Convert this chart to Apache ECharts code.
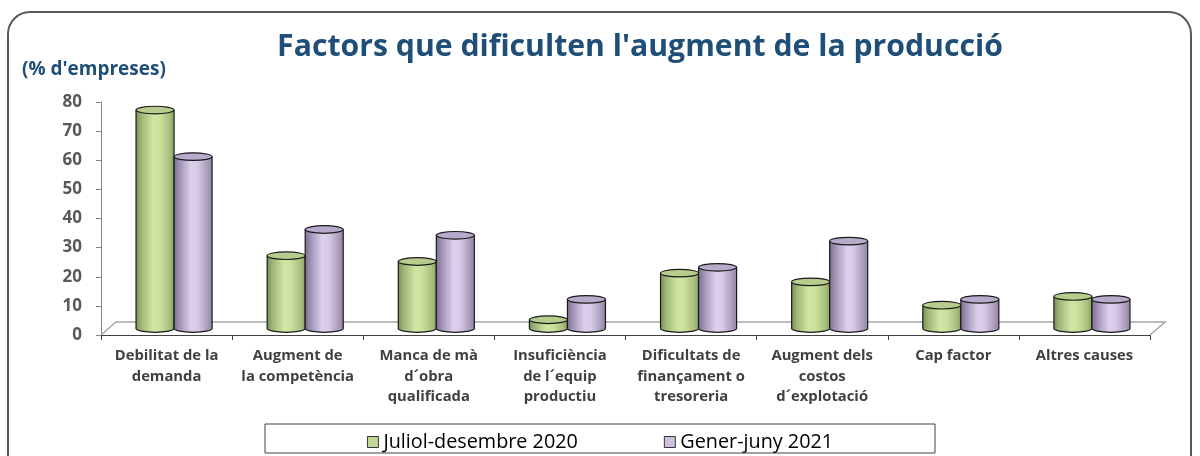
<!DOCTYPE html>
<html><head><meta charset="utf-8">
<script src="https://cdn.jsdelivr.net/npm/echarts@6/dist/echarts.min.js"></script>
<style>html,body{margin:0;padding:0;background:#fff}#c{width:1200px;height:456px}</style>
</head><body><div id="c"></div>
<script>
const categories = ['Debilitat de la\ndemanda', 'Augment de\nla competència', 'Manca de mà\nd´obra\nqualificada', 'Insuficiència\nde l´equip\nproductiu', 'Dificultats de\nfinançament o\ntresoreria', 'Augment dels\ncostos\nd´explotació', 'Cap factor', 'Altres causes'];
const seriesNames = ['Juliol-desembre 2020', 'Gener-juny 2021'];
const valuesJulDec2020 = [75, 25, 23, 3, 19, 16, 8, 11];
const valuesJanJun2021 = [59, 34, 32, 10, 21, 30, 10, 10];
const yMin = 0, yMax = 80, yInterval = 10;
const titleText = "Factors que dificulten l'augment de la producció";
const unitText = "(% d'empreses)";

const FONT = '"Open Sans", Lato, sans-serif';
const palettes = [
  {stops: ['#7a9155', '#9fb877', '#d2e4a4', '#cde09e', '#a9bf80', '#8aa163'], cap: '#b8cc8e', legend: '#c4d79b'},
  {stops: ['#7c7091', '#a193b6', '#dcd0ec', '#d6caE6', '#a99dbb', '#8f84a2'], cap: '#b7aacb', legend: '#ccc0da'}
];

function cylinder(idx) {
  const p = palettes[idx];
  return function (params, api) {
    const cat = api.value(0), v = api.value(1);
    const top = api.coord([cat, v]);
    const base = api.coord([cat, 0]);
    const band = api.size([1, 0])[0];
    const w = band * 0.29;
    const x = top[0] + (idx === 0 ? -w : 0);
    const cx = x + w / 2, rx = w / 2, ry = 3.8;
    const grad = () => new echarts.graphic.LinearGradient(0, 0, 1, 0, [
      {offset: 0, color: p.stops[0]}, {offset: 0.15, color: p.stops[1]},
      {offset: 0.45, color: p.stops[2]}, {offset: 0.62, color: p.stops[3]},
      {offset: 0.88, color: p.stops[4]}, {offset: 1, color: p.stops[5]}]);
    const ln = '#1a1a1a';
    return {type: 'group', children: [
      {type: 'ellipse', shape: {cx: cx, cy: base[1], rx: rx, ry: ry}, style: {fill: grad(), stroke: ln, lineWidth: 1.2}},
      {type: 'rect', shape: {x: x, y: top[1], width: w, height: base[1] - top[1]}, style: {fill: grad()}},
      {type: 'line', shape: {x1: x, y1: top[1], x2: x, y2: base[1]}, style: {stroke: ln, lineWidth: 1.2}},
      {type: 'line', shape: {x1: x + w, y1: top[1], x2: x + w, y2: base[1]}, style: {stroke: ln, lineWidth: 1.2}},
      {type: 'ellipse', shape: {cx: cx, cy: top[1], rx: rx, ry: ry}, style: {fill: p.cap, stroke: ln, lineWidth: 1.2}}
    ]};
  };
}

function floorRender(params, api) {
  const cs = params.coordSys;
  const x0 = cs.x, y0 = cs.y + cs.height, x1 = cs.x + cs.width;
  const dx = 15, dy = 13;
  return {type: 'polyline', shape: {points: [[x0, y0], [x0 + dx, y0 - dy], [x1 + dx, y0 - dy], [x1, y0]]},
    style: {stroke: '#a6a6a6', lineWidth: 1.5, fill: null}, z2: 0};
}

const chart = echarts.init(document.getElementById('c'), null, {renderer: 'canvas'});
chart.setOption({
  backgroundColor: '#fff',
  animation: false,
  textStyle: {fontFamily: FONT},
  grid: [
    {left: 101, right: 50, top: 102, bottom: 121},
    {left: 108.5, right: 42.5, top: 95.5, bottom: 127.5}
  ],
  xAxis: [
    {type: 'category', gridIndex: 0, data: categories, boundaryGap: true,
      axisLine: {lineStyle: {color: '#404040', width: 1}},
      axisTick: {show: true, length: 5, interval: 0, lineStyle: {color: '#404040'}},
      axisLabel: {interval: 0, margin: 11, fontSize: 14.8, fontWeight: 'bold', color: '#404040', lineHeight: 20.5, fontFamily: FONT}},
    {type: 'category', gridIndex: 1, data: categories, show: false}
  ],
  yAxis: [
    {type: 'value', gridIndex: 0, min: yMin, max: yMax, interval: yInterval,
      axisLine: {show: true, lineStyle: {color: '#868686'}},
      axisTick: {show: true, length: 5, lineStyle: {color: '#868686'}},
      splitLine: {show: false},
      axisLabel: {margin: 19, fontSize: 17, fontWeight: 'bold', color: '#595959', fontFamily: FONT}},
    {type: 'value', gridIndex: 1, min: yMin, max: yMax, interval: yInterval, show: false, splitLine: {show: false}}
  ],
  legend: {
    left: 'center', top: 427, itemGap: 86, itemWidth: 11, itemHeight: 11, itemTextGap: 3,
    textStyle: {fontSize: 19.8, color: '#000', fontFamily: FONT},
    data: seriesNames.map((n, i) => ({name: n, icon: 'rect', itemStyle: {color: palettes[i].legend, borderColor: '#333', borderWidth: 1}}))
  },
  graphic: [
    {type: 'rect', shape: {x: 8, y: 12, width: 1183, height: 480, r: 22}, style: {fill: null, stroke: '#595959', lineWidth: 2}, silent: true},
    {type: 'text', x: 640, y: 47, style: {text: titleText, textAlign: 'center', textVerticalAlign: 'middle', fontSize: 30.2, fontWeight: 'bold', fill: '#1f4e79', fontFamily: FONT}},
    {type: 'text', x: 22, y: 70, style: {text: unitText, textAlign: 'left', textVerticalAlign: 'middle', fontSize: 19, fontWeight: 'bold', fill: '#1f4e79', fontFamily: FONT}},
    {type: 'rect', shape: {x: 265, y: 424, width: 670, height: 29}, style: {fill: null, stroke: '#404040', lineWidth: 1}, silent: true}
  ],
  series: [
    {type: 'custom', name: 'floor', xAxisIndex: 0, yAxisIndex: 0, data: [[0, 0]], renderItem: floorRender, z: 1, silent: true},
    {type: 'custom', name: seriesNames[0], xAxisIndex: 1, yAxisIndex: 1, z: 3,
      itemStyle: {color: palettes[0].legend},
      encode: {x: 0, y: 1}, data: valuesJulDec2020.map((v, i) => [i, v]), renderItem: cylinder(0)},
    {type: 'custom', name: seriesNames[1], xAxisIndex: 1, yAxisIndex: 1, z: 3,
      itemStyle: {color: palettes[1].legend},
      encode: {x: 0, y: 1}, data: valuesJanJun2021.map((v, i) => [i, v]), renderItem: cylinder(1)}
  ]
});
</script></body></html>
